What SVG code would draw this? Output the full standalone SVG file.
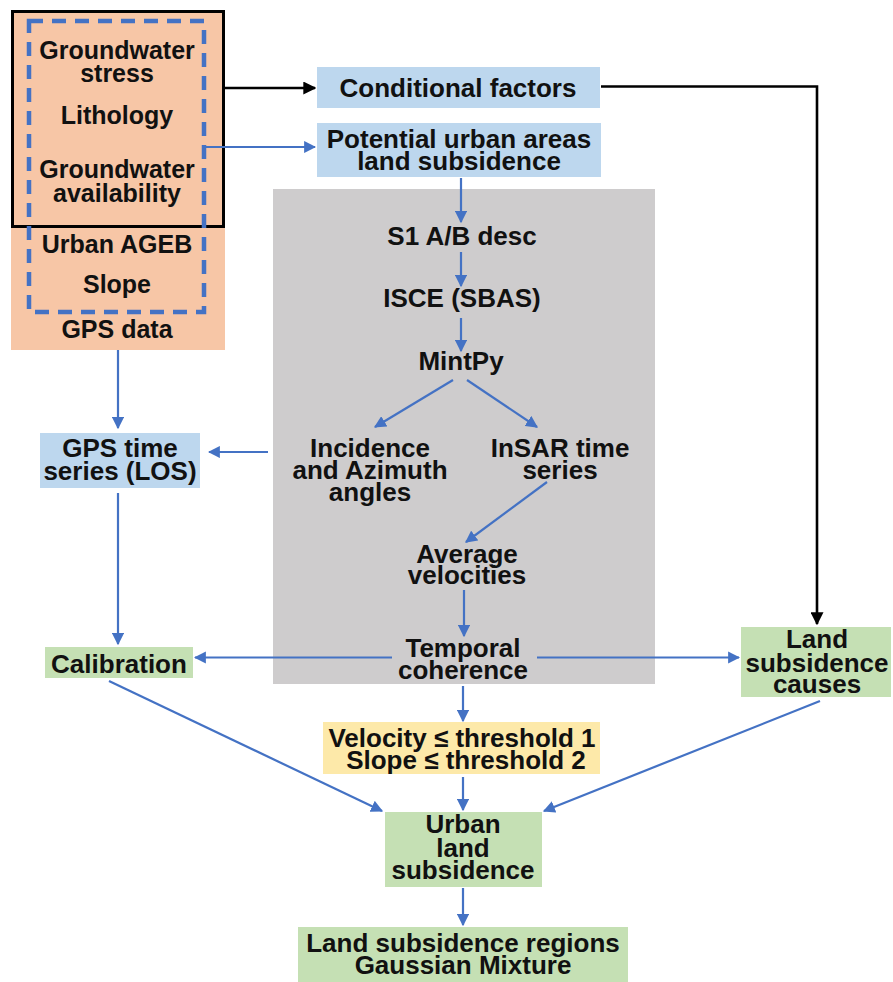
<svg xmlns="http://www.w3.org/2000/svg" width="893" height="982" viewBox="0 0 893 982">
<defs>
<style>
text{font-family:"Liberation Sans",Arial,sans-serif;font-weight:bold;font-size:26px;fill:#111;text-anchor:middle}
.sm{font-size:25px}
.blue{fill:#bdd7ee}
.green{fill:#c5e0b4}
.b{stroke:#4472c4;stroke-width:2.2;fill:none}
.k{stroke:#000;stroke-width:2.6;fill:none}
</style>
<marker id="ab" viewBox="0 0 10 10" refX="9" refY="5" markerWidth="5.5" markerHeight="5.5" orient="auto" markerUnits="strokeWidth"><path d="M0,0 L10,5 L0,10 z" fill="#4472c4"/></marker>
<marker id="ak" viewBox="0 0 10 10" refX="9" refY="5" markerWidth="5" markerHeight="5" orient="auto" markerUnits="strokeWidth"><path d="M0,0 L10,5 L0,10 z" fill="#000"/></marker>
</defs>
<rect width="893" height="982" fill="#fff"/>
<g id="insar-panel"><rect x="273" y="189" width="382" height="495" fill="#cecccd"/></g>
<g id="inputs">
<rect x="11" y="10" width="214" height="340" fill="#f7c6a6"/>
<rect x="12.5" y="11.5" width="211" height="215" fill="none" stroke="#000" stroke-width="3"/>
<rect x="29" y="21" width="175" height="291" fill="none" stroke="#4472c4" stroke-width="4.5" stroke-dasharray="14,9"/>
<text class="sm" x="117" y="59">Groundwater</text>
<text class="sm" x="117" y="82">stress</text>
<text class="sm" x="117" y="124">Lithology</text>
<text class="sm" x="117" y="178">Groundwater</text>
<text class="sm" x="117" y="202">availability</text>
<text class="sm" x="117" y="253">Urban AGEB</text>
<text class="sm" x="117" y="293">Slope</text>
<text class="sm" x="117" y="338">GPS data</text>
</g>
<g id="conditional"><rect class="blue" x="317" y="67" width="283" height="41"/><text x="458" y="97">Conditional factors</text></g>
<g id="potential"><rect class="blue" x="317" y="123" width="284" height="54"/><text x="459" y="148">Potential urban areas</text><text x="459" y="170">land subsidence</text></g>
<g id="s1"><text x="462" y="245">S1 A/B desc</text></g>
<g id="isce"><text x="462" y="307">ISCE (SBAS)</text></g>
<g id="mintpy"><text x="461" y="370">MintPy</text></g>
<g id="incidence"><text x="370" y="457">Incidence</text><text x="370" y="479">and Azimuth</text><text x="370" y="501">angles</text></g>
<g id="insar-ts"><text x="560" y="457">InSAR time</text><text x="560" y="479">series</text></g>
<g id="average"><text x="467" y="563">Average</text><text x="467" y="584">velocities</text></g>
<g id="temporal"><text x="463" y="657">Temporal</text><text x="463" y="679">coherence</text></g>
<g id="gps-ts"><rect class="blue" x="40" y="433" width="160" height="55"/><text x="120" y="457">GPS time</text><text x="120" y="480">series (LOS)</text></g>
<g id="calibration"><rect class="green" x="45" y="647" width="148" height="31"/><text x="119" y="673">Calibration</text></g>
<g id="causes"><rect class="green" x="741" y="627" width="150" height="70"/><text x="817" y="648">Land</text><text x="817" y="672">subsidence</text><text x="817" y="693">causes</text></g>
<g id="threshold"><rect x="323" y="722" width="277" height="52" fill="#fde9a9"/><text x="462" y="747">Velocity ≤ threshold 1</text><text x="466" y="769">Slope ≤ threshold 2</text></g>
<g id="urban"><rect class="green" x="385" y="812" width="157" height="75"/><text x="463" y="833">Urban</text><text x="463" y="857">land</text><text x="463" y="879">subsidence</text></g>
<g id="regions"><rect class="green" x="298" y="927" width="330" height="55"/><text x="463" y="952">Land subsidence regions</text><text x="463" y="974">Gaussian Mixture</text></g>
<g id="connectors">
<path class="k" d="M225,88 H315" marker-end="url(#ak)"/>
<path class="k" d="M601,86.5 H817 V624" marker-end="url(#ak)"/>
<path class="b" d="M206,147 H315" marker-end="url(#ab)"/>
<path class="b" d="M461,178 V222" marker-end="url(#ab)"/>
<path class="b" d="M461,252 V286" marker-end="url(#ab)"/>
<path class="b" d="M461,318 V351" marker-end="url(#ab)"/>
<path class="b" d="M453,380 L375,427" marker-end="url(#ab)"/>
<path class="b" d="M467,380 L537,427" marker-end="url(#ab)"/>
<path class="b" d="M547,482 L466,542" marker-end="url(#ab)"/>
<path class="b" d="M464,590 V636" marker-end="url(#ab)"/>
<path class="b" d="M118,350 V428" marker-end="url(#ab)"/>
<path class="b" d="M268,452 H209" marker-end="url(#ab)"/>
<path class="b" d="M118,493 V644" marker-end="url(#ab)"/>
<path class="b" d="M392,657.5 H195" marker-end="url(#ab)"/>
<path class="b" d="M537,657.5 H739" marker-end="url(#ab)"/>
<path class="b" d="M463,686 V721" marker-end="url(#ab)"/>
<path class="b" d="M463,777 V810" marker-end="url(#ab)"/>
<path class="b" d="M109,681 L382,811" marker-end="url(#ab)"/>
<path class="b" d="M820,701 L544,811" marker-end="url(#ab)"/>
<path class="b" d="M463,888 V925" marker-end="url(#ab)"/>
</g>
</svg>
